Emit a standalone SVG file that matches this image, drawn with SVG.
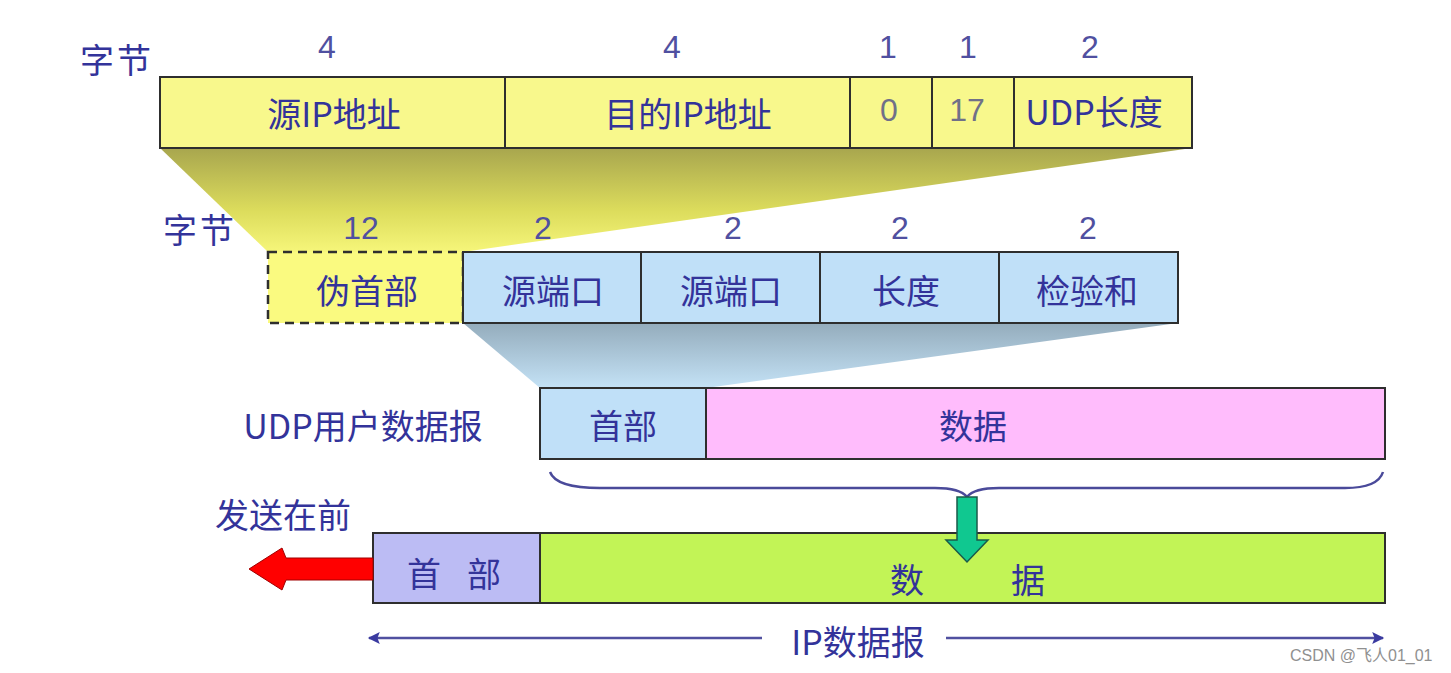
<svg xmlns="http://www.w3.org/2000/svg" width="1451" height="673" viewBox="0 0 1451 673">
<defs>
<linearGradient id="gy" x1="0" y1="0" x2="0" y2="1">
<stop offset="0" stop-color="#a8a64e"/>
<stop offset="0.6" stop-color="#dcdc5c"/>
<stop offset="1" stop-color="#f6f67a"/>
</linearGradient>
<linearGradient id="gb" x1="0" y1="0" x2="0" y2="1">
<stop offset="0" stop-color="#94acbc"/>
<stop offset="1" stop-color="#c4e2f6"/>
</linearGradient>
<marker id="ah" viewBox="0 0 10 10" refX="9" refY="5" markerWidth="14" markerHeight="12" orient="auto-start-reverse" markerUnits="userSpaceOnUse">
<path d="M0,0 L10,5 L0,10 L2,5 Z" fill="#3a3aa0"/>
</marker>
</defs>
<style>
.cell{stroke:#2e2e2e;stroke-width:2}
.y{fill:#f8f88c}
.b{fill:#c0e0f8}
.t{font-family:"Noto Sans CJK SC","Liberation Sans",sans-serif;font-size:34px;fill:#33339a;text-anchor:middle;dominant-baseline:central}
.n{font-family:"Liberation Sans",sans-serif;font-size:32px;fill:#5050a0;text-anchor:middle;dominant-baseline:central}
.g{fill:#707088}
</style>
<rect width="1451" height="673" fill="#ffffff"/>
<g id="fans">
<polygon points="160,148 1192,148 463,252 268,252" fill="url(#gy)"/>
<polygon points="463,323 1178,323 706,388 540,388" fill="url(#gb)"/>
</g>
<g id="labels">
<text class="t" x="117" y="58" letter-spacing="3">字节</text>
<text class="t" x="200" y="228" letter-spacing="3">字节</text>
<text class="t" x="363" y="424">UDP用户数据报</text>
<text class="t" x="283" y="513">发送在前</text>
</g>
<g id="ip-pseudo-row">
<text class="n" x="327" y="47">4</text>
<text class="n" x="672" y="47">4</text>
<text class="n" x="888" y="47">1</text>
<text class="n" x="968" y="47">1</text>
<text class="n" x="1090" y="47">2</text>
<rect class="cell y" x="160" y="77" width="345" height="71"/>
<rect class="cell y" x="505" y="77" width="345" height="71"/>
<rect class="cell y" x="850" y="77" width="82" height="71"/>
<rect class="cell y" x="932" y="77" width="82" height="71"/>
<rect class="cell y" x="1014" y="77" width="178" height="71"/>
<text class="t" x="334" y="112">源IP地址</text>
<text class="t" x="688" y="112">目的IP地址</text>
<text class="n g" x="889" y="110">0</text>
<text class="n g" x="967" y="110">17</text>
<text class="t" x="1094" y="110">UDP长度</text>
</g>
<g id="udp-header-row">
<text class="n" x="361" y="228">12</text>
<text class="n" x="543" y="228">2</text>
<text class="n" x="733" y="228">2</text>
<text class="n" x="900" y="228">2</text>
<text class="n" x="1088" y="228">2</text>
<rect x="268" y="252" width="195" height="71" fill="#fafa80" stroke="#2e2e2e" stroke-width="2.5" stroke-dasharray="9,6"/>
<rect class="cell b" x="463" y="252" width="178" height="71"/>
<rect class="cell b" x="641" y="252" width="179" height="71"/>
<rect class="cell b" x="820" y="252" width="179" height="71"/>
<rect class="cell b" x="999" y="252" width="179" height="71"/>
<text class="t" x="367" y="289">伪首部</text>
<text class="t" x="553" y="289">源端口</text>
<text class="t" x="731" y="289">源端口</text>
<text class="t" x="906" y="289">长度</text>
<text class="t" x="1087" y="289">检验和</text>
</g>
<g id="udp-datagram">
<rect class="cell b" x="540" y="388" width="166" height="71"/>
<rect class="cell" x="706" y="388" width="679" height="71" fill="#ffbcfc"/>
<text class="t" x="623" y="424">首部</text>
<text class="t" x="973" y="424">数据</text>
</g>
<g id="ip-datagram">
<rect class="cell" x="373" y="533" width="167" height="70" fill="#bcbcf4"/>
<rect class="cell" x="540" y="533" width="845" height="70" fill="#c2f456"/>
<text class="t" x="424" y="572">首</text>
<text class="t" x="484" y="572">部</text>
<text class="t" x="907" y="578">数</text>
<text class="t" x="1028" y="578">据</text>
</g>
<g id="connectors">
<path d="M550,472 Q556,488 600,488 L935,488 Q960,488 967,497 Q974,488 999,488 L1345,488 Q1378,488 1383,472" fill="none" stroke="#4a4a9a" stroke-width="2.5"/>
<polygon points="957,497 977,497 977,540 988,540 967,562 946,540 957,540" fill="#10c890" stroke="#1a5a4a" stroke-width="1.5"/>
<polygon points="373,558 286,558 282,548 249,569 282,590 286,580 373,580" fill="#ff0000" stroke="#a00000" stroke-width="1"/>
<line x1="369" y1="638" x2="762" y2="638" stroke="#5050a0" stroke-width="2.5" marker-start="url(#ah)"/>
<line x1="946" y1="638" x2="1383" y2="638" stroke="#5050a0" stroke-width="2.5" marker-end="url(#ah)"/>
<text class="t" x="858" y="640">IP数据报</text>
</g>
<text x="1290" y="661" font-family="Liberation Sans,'Noto Sans CJK SC',sans-serif" font-size="16" fill="#909090">CSDN @飞人01_01</text>
</svg>
